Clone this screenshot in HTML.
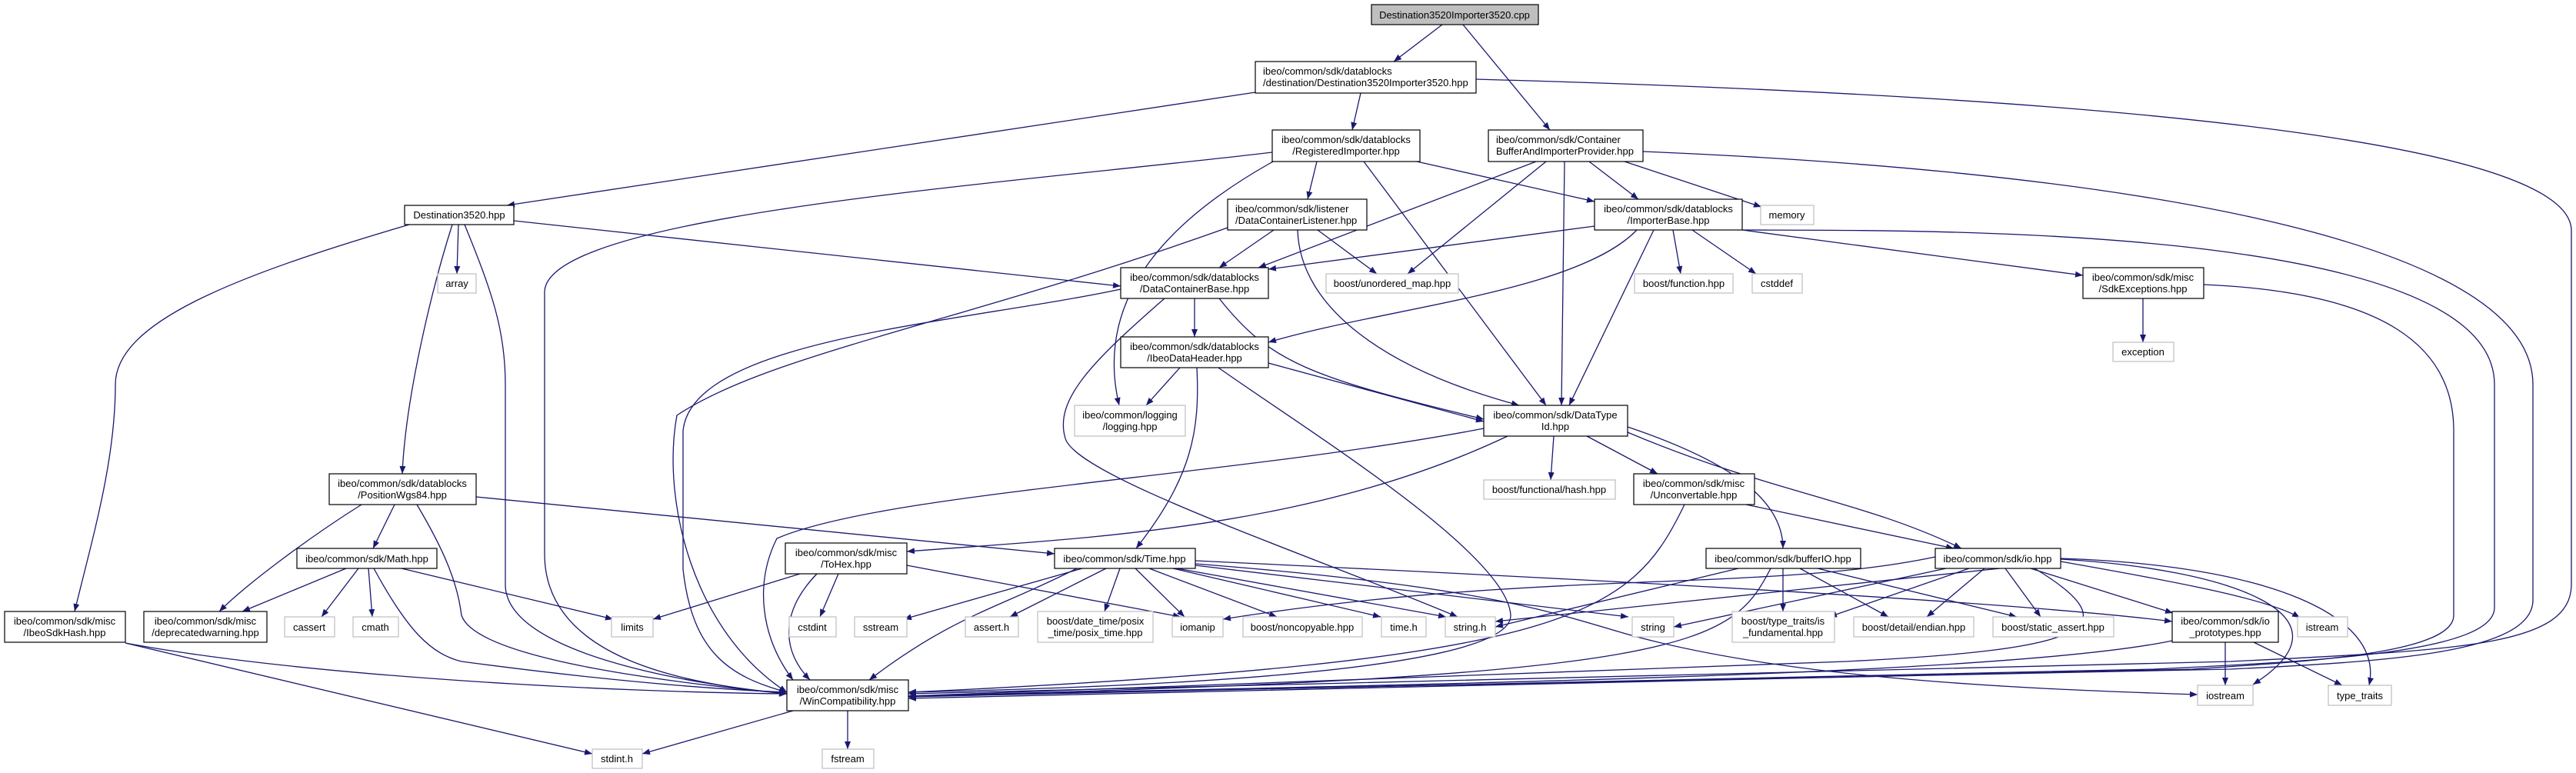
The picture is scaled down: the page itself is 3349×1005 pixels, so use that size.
<!DOCTYPE html>
<html><head><meta charset="utf-8"><style>
html,body{margin:0;padding:0;background:#fff}
svg{display:block}
text{font-family:"Liberation Sans",sans-serif;font-size:13px;fill:#000}
.n{fill:#fff;stroke:#000;stroke-width:1.2}
.x{fill:#fff;stroke:#bfbfbf;stroke-width:1.2}
.e{fill:none;stroke:#191970;stroke-width:1.3}
</style></head><body>
<svg width="3349" height="1005" viewBox="0 0 3349 1005" xmlns="http://www.w3.org/2000/svg">
<defs><marker id="a" markerWidth="10" markerHeight="8" refX="10" refY="4" orient="auto" markerUnits="userSpaceOnUse"><path d="M0,0 L10,4 L0,8 z" fill="#191970"/></marker></defs>
<g class="e" marker-end="url(#a)">
<path d="M1875,32 L1812,80"/>
<path d="M1902,32 L2015,169"/>
<path d="M1632,120 L659,267"/>
<path d="M1769,121 L1758,169"/>
<path d="M1919,103 C2900,130 3343,200 3343,300 L3343,760 C3343,840 3200,845 2900,860 L1181,902"/>
<path d="M1654,198 C1300,240 708,280 708,380 L708,720 C708,860 900,890 1023,902"/>
<path d="M1712,210 L1700,259"/>
<path d="M1842,210 L2073,262"/>
<path d="M1773,210 L2010,527"/>
<path d="M1655,210 C1530,280 1420,380 1455,527"/>
<path d="M1997,210 L1636,348"/>
<path d="M2010,210 L1830,356"/>
<path d="M2034,210 L2030,527"/>
<path d="M2066,210 L2130,259"/>
<path d="M2112,210 L2290,269"/>
<path d="M2136,197 C2700,220 3293,300 3293,500 L3293,780 C3293,850 3100,860 2900,870 L1181,905"/>
<path d="M1656,299 L1585,348"/>
<path d="M1713,299 L1790,356"/>
<path d="M1687,299 C1690,400 1800,480 1975,527"/>
<path d="M1596,296 C1250,420 1000,460 880,540 C860,650 900,820 1023,900"/>
<path d="M2073,294 L1649,350"/>
<path d="M2128,299 C2050,380 1800,400 1649,445"/>
<path d="M2150,299 L2040,527"/>
<path d="M2175,299 L2185,356"/>
<path d="M2200,299 L2283,356"/>
<path d="M2265,299 L2708,358"/>
<path d="M2265,299 C2500,300 3243,290 3243,500 L3243,790 C3243,850 3000,860 2800,870 L1181,906"/>
<path d="M668,287 L1457,372"/>
<path d="M532,292 C300,360 150,420 150,500 C150,600 120,700 97,795"/>
<path d="M596,292 L594,356"/>
<path d="M588,292 C560,380 527,520 523,616"/>
<path d="M604,292 C640,380 657,430 657,500 L657,760 C657,850 900,890 1023,902"/>
<path d="M1553,388 L1553,438"/>
<path d="M1457,376 C1250,420 900,440 888,560 L888,740 C900,850 950,880 1023,900"/>
<path d="M1514,388 C1420,470 1370,520 1385,570 C1400,620 1700,720 1895,802"/>
<path d="M1585,388 C1650,470 1700,490 1929,545"/>
<path d="M1534,478 L1490,527"/>
<path d="M1556,478 C1560,560 1550,620 1477,713"/>
<path d="M1649,472 L1929,548"/>
<path d="M1584,478 C1700,560 1960,720 1964,800 C1966,880 1400,895 1181,900"/>
<path d="M1929,557 C1600,620 1150,640 1010,700 C980,760 990,830 1031,884"/>
<path d="M1960,567 C1700,690 1400,700 1179,717"/>
<path d="M2020,567 L2016,624"/>
<path d="M2063,567 L2155,616"/>
<path d="M2116,562 C2300,640 2420,650 2550,713"/>
<path d="M2116,555 C2250,600 2318,650 2318,713"/>
<path d="M2190,656 C2120,800 2050,860 1181,900"/>
<path d="M2270,656 L2540,713"/>
<path d="M470,656 C400,700 320,760 285,795"/>
<path d="M513,656 L485,713"/>
<path d="M542,656 C580,720 595,760 600,800 C620,860 900,890 1023,902"/>
<path d="M619,646 L1371,720"/>
<path d="M450,739 L315,795"/>
<path d="M466,739 L418,802"/>
<path d="M479,739 L484,802"/>
<path d="M486,739 C530,820 560,850 600,860 C750,880 900,895 1023,900"/>
<path d="M522,739 L797,805"/>
<path d="M163,836 C400,880 800,900 1023,902"/>
<path d="M163,836 L770,980"/>
<path d="M1031,924 L835,980"/>
<path d="M1102,924 L1102,974"/>
<path d="M1040,746 L849,805"/>
<path d="M1062,746 C1010,800 1020,850 1053,884"/>
<path d="M1090,746 L1066,802"/>
<path d="M1179,735 L1535,802"/>
<path d="M1407,739 L1175,805"/>
<path d="M1400,739 C1300,790 1240,800 1130,884"/>
<path d="M1438,739 L1313,802"/>
<path d="M1456,739 L1436,795"/>
<path d="M1476,739 L1540,802"/>
<path d="M1494,739 L1660,802"/>
<path d="M1525,739 L1795,802"/>
<path d="M1530,739 L1880,802"/>
<path d="M1554,735 L2117,802"/>
<path d="M1554,733 C1900,760 2000,790 2100,820 C2300,880 2600,895 2857,903"/>
<path d="M1554,729 C2000,750 2600,780 2824,808"/>
<path d="M2260,739 L1944,815"/>
<path d="M2302,739 C2250,840 2200,880 1181,905"/>
<path d="M2318,739 L2318,795"/>
<path d="M2340,739 L2455,802"/>
<path d="M2363,739 L2622,802"/>
<path d="M2516,724 C2300,770 2000,740 1590,805"/>
<path d="M2530,739 L2176,815"/>
<path d="M2560,739 L2378,802"/>
<path d="M2580,739 L2505,802"/>
<path d="M2607,739 L2653,802"/>
<path d="M2640,739 L2825,797"/>
<path d="M2679,730 C2850,760 2950,780 2990,803"/>
<path d="M2679,727 C2900,740 3070,800 2929,890"/>
<path d="M2679,726 C2950,735 3100,800 3080,891"/>
<path d="M2645,739 C2780,820 2700,845 2400,860 L1181,905"/>
<path d="M2600,739 L1944,808"/>
<path d="M2893,835 L2893,891"/>
<path d="M2930,835 L3045,891"/>
<path d="M2824,833 C2600,880 1800,890 1181,905"/>
<path d="M2786,388 L2786,445"/>
<path d="M2865,370 C3100,380 3190,450 3190,560 L3190,800 C3190,850 3000,860 2850,870 L1181,908"/>
</g>
<g>
<rect x="1783" y="6" width="217" height="26" fill="#bfbfbf" stroke="#000" stroke-width="1.2"/><text x="1891" y="24" text-anchor="middle">Destination3520Importer3520.cpp</text>
<rect class="n" x="1632" y="80" width="287" height="41"/><text x="1642" y="97">ibeo/common/sdk/datablocks</text><text x="1642" y="112">/destination/Destination3520Importer3520.hpp</text>
<rect class="n" x="1654" y="169" width="192" height="41"/><text x="1750" y="186" text-anchor="middle">ibeo/common/sdk/datablocks</text><text x="1750" y="201" text-anchor="middle">/RegisteredImporter.hpp</text>
<rect class="n" x="1935" y="169" width="201" height="41"/><text x="1945" y="186">ibeo/common/sdk/Container</text><text x="1945" y="201">BufferAndImporterProvider.hpp</text>
<rect class="n" x="1596" y="259" width="181" height="40"/><text x="1606" y="276">ibeo/common/sdk/listener</text><text x="1606" y="291">/DataContainerListener.hpp</text>
<rect class="n" x="2073" y="259" width="192" height="40"/><text x="2169" y="276" text-anchor="middle">ibeo/common/sdk/datablocks</text><text x="2169" y="291" text-anchor="middle">/ImporterBase.hpp</text>
<rect class="x" x="2289" y="267" width="69" height="25"/><text x="2323" y="284" text-anchor="middle">memory</text>
<rect class="n" x="526" y="267" width="142" height="25"/><text x="597" y="284" text-anchor="middle">Destination3520.hpp</text>
<rect class="x" x="569" y="356" width="50" height="25"/><text x="594" y="373" text-anchor="middle">array</text>
<rect class="n" x="1457" y="348" width="192" height="40"/><text x="1553" y="365" text-anchor="middle">ibeo/common/sdk/datablocks</text><text x="1553" y="380" text-anchor="middle">/DataContainerBase.hpp</text>
<rect class="x" x="1724" y="356" width="172" height="25"/><text x="1810" y="373" text-anchor="middle">boost/unordered_map.hpp</text>
<rect class="x" x="2125" y="356" width="128" height="25"/><text x="2189" y="373" text-anchor="middle">boost/function.hpp</text>
<rect class="x" x="2278" y="356" width="65" height="25"/><text x="2310" y="373" text-anchor="middle">cstddef</text>
<rect class="n" x="2708" y="348" width="157" height="40"/><text x="2786" y="365" text-anchor="middle">ibeo/common/sdk/misc</text><text x="2786" y="380" text-anchor="middle">/SdkExceptions.hpp</text>
<rect class="x" x="2747" y="445" width="79" height="25"/><text x="2786" y="462" text-anchor="middle">exception</text>
<rect class="n" x="1457" y="438" width="192" height="40"/><text x="1553" y="455" text-anchor="middle">ibeo/common/sdk/datablocks</text><text x="1553" y="470" text-anchor="middle">/IbeoDataHeader.hpp</text>
<rect class="x" x="1397" y="527" width="144" height="40"/><text x="1469" y="544" text-anchor="middle">ibeo/common/logging</text><text x="1469" y="559" text-anchor="middle">/logging.hpp</text>
<rect class="n" x="1929" y="527" width="187" height="40"/><text x="2022" y="544" text-anchor="middle">ibeo/common/sdk/DataType</text><text x="2022" y="559" text-anchor="middle">Id.hpp</text>
<rect class="x" x="1929" y="624" width="171" height="25"/><text x="2014" y="641" text-anchor="middle">boost/functional/hash.hpp</text>
<rect class="n" x="2124" y="616" width="157" height="40"/><text x="2202" y="633" text-anchor="middle">ibeo/common/sdk/misc</text><text x="2202" y="648" text-anchor="middle">/Unconvertable.hpp</text>
<rect class="n" x="428" y="616" width="191" height="40"/><text x="523" y="633" text-anchor="middle">ibeo/common/sdk/datablocks</text><text x="523" y="648" text-anchor="middle">/PositionWgs84.hpp</text>
<rect class="n" x="386" y="713" width="182" height="26"/><text x="477" y="731" text-anchor="middle">ibeo/common/sdk/Math.hpp</text>
<rect class="n" x="1021" y="706" width="158" height="40"/><text x="1100" y="723" text-anchor="middle">ibeo/common/sdk/misc</text><text x="1100" y="738" text-anchor="middle">/ToHex.hpp</text>
<rect class="n" x="1371" y="713" width="183" height="26"/><text x="1462" y="731" text-anchor="middle">ibeo/common/sdk/Time.hpp</text>
<rect class="n" x="2218" y="713" width="201" height="26"/><text x="2318" y="731" text-anchor="middle">ibeo/common/sdk/bufferIO.hpp</text>
<rect class="n" x="2516" y="713" width="163" height="26"/><text x="2597" y="731" text-anchor="middle">ibeo/common/sdk/io.hpp</text>
<rect class="n" x="6" y="795" width="157" height="40"/><text x="84" y="812" text-anchor="middle">ibeo/common/sdk/misc</text><text x="84" y="827" text-anchor="middle">/IbeoSdkHash.hpp</text>
<rect class="n" x="187" y="795" width="160" height="40"/><text x="267" y="812" text-anchor="middle">ibeo/common/sdk/misc</text><text x="267" y="827" text-anchor="middle">/deprecatedwarning.hpp</text>
<rect class="x" x="370" y="802" width="65" height="26"/><text x="402" y="820" text-anchor="middle">cassert</text>
<rect class="x" x="459" y="802" width="59" height="26"/><text x="488" y="820" text-anchor="middle">cmath</text>
<rect class="x" x="795" y="802" width="54" height="26"/><text x="822" y="820" text-anchor="middle">limits</text>
<rect class="x" x="1026" y="802" width="61" height="26"/><text x="1056" y="820" text-anchor="middle">cstdint</text>
<rect class="x" x="1111" y="802" width="68" height="26"/><text x="1145" y="820" text-anchor="middle">sstream</text>
<rect class="x" x="1255" y="802" width="69" height="26"/><text x="1289" y="820" text-anchor="middle">assert.h</text>
<rect class="x" x="1349" y="795" width="150" height="40"/><text x="1424" y="812" text-anchor="middle">boost/date_time/posix</text><text x="1424" y="827" text-anchor="middle">_time/posix_time.hpp</text>
<rect class="x" x="1524" y="802" width="66" height="26"/><text x="1557" y="820" text-anchor="middle">iomanip</text>
<rect class="x" x="1616" y="802" width="155" height="26"/><text x="1693" y="820" text-anchor="middle">boost/noncopyable.hpp</text>
<rect class="x" x="1796" y="802" width="58" height="26"/><text x="1825" y="820" text-anchor="middle">time.h</text>
<rect class="x" x="1879" y="802" width="65" height="26"/><text x="1911" y="820" text-anchor="middle">string.h</text>
<rect class="x" x="2122" y="802" width="54" height="26"/><text x="2149" y="820" text-anchor="middle">string</text>
<rect class="x" x="2252" y="795" width="133" height="40"/><text x="2318" y="812" text-anchor="middle">boost/type_traits/is</text><text x="2318" y="827" text-anchor="middle">_fundamental.hpp</text>
<rect class="x" x="2410" y="802" width="156" height="26"/><text x="2488" y="820" text-anchor="middle">boost/detail/endian.hpp</text>
<rect class="x" x="2591" y="802" width="157" height="26"/><text x="2669" y="820" text-anchor="middle">boost/static_assert.hpp</text>
<rect class="n" x="2824" y="795" width="138" height="40"/><text x="2893" y="812" text-anchor="middle">ibeo/common/sdk/io</text><text x="2893" y="827" text-anchor="middle">_prototypes.hpp</text>
<rect class="x" x="2987" y="802" width="65" height="26"/><text x="3019" y="820" text-anchor="middle">istream</text>
<rect class="n" x="1023" y="884" width="158" height="40"/><text x="1102" y="901" text-anchor="middle">ibeo/common/sdk/misc</text><text x="1102" y="916" text-anchor="middle">/WinCompatibility.hpp</text>
<rect class="x" x="2857" y="891" width="72" height="26"/><text x="2893" y="909" text-anchor="middle">iostream</text>
<rect class="x" x="3027" y="891" width="82" height="26"/><text x="3068" y="909" text-anchor="middle">type_traits</text>
<rect class="x" x="770" y="974" width="65" height="25"/><text x="802" y="991" text-anchor="middle">stdint.h</text>
<rect class="x" x="1069" y="974" width="67" height="25"/><text x="1102" y="991" text-anchor="middle">fstream</text>
</g>
</svg>
</body></html>
